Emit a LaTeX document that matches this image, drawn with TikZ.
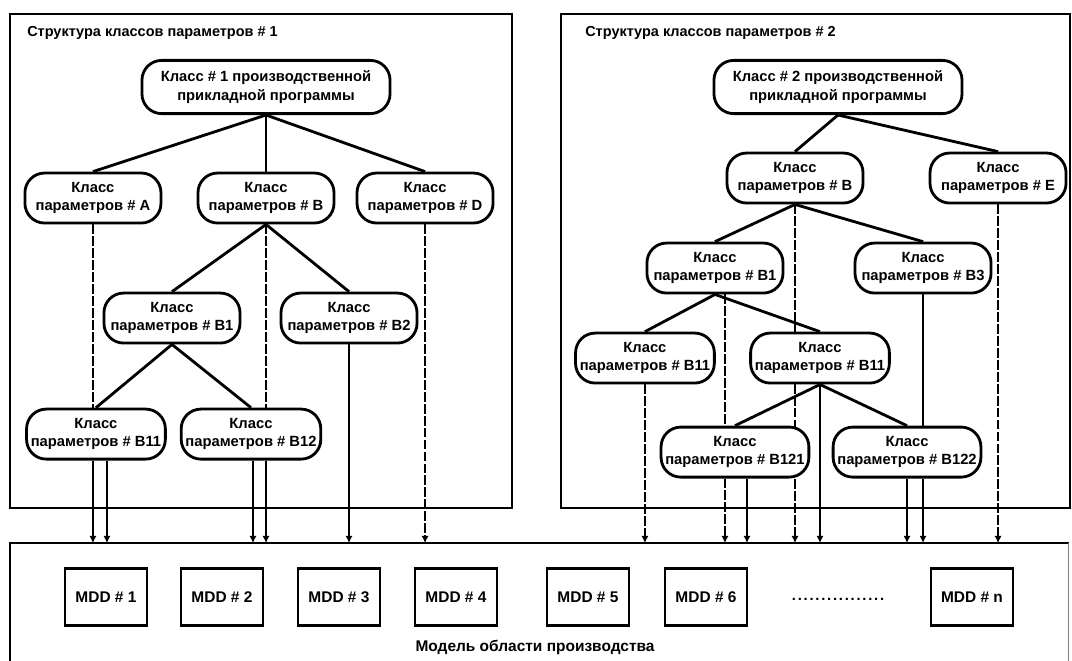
\documentclass[tikz,border=0pt]{standalone}
\usepackage{fontspec}
\setmainfont{Liberation Sans}
\usetikzlibrary{arrows.meta,backgrounds}
\tikzset{
    frame/.style = {draw, line width=2pt},
    paneltitle/.style = {anchor=west, inner sep=0pt,
        font=\fontsize{10.3}{12}\selectfont\bfseries},
    appclass/.style = {draw, line width=2pt, rounded corners=14pt, fill=white,
        minimum width=6.2cm, minimum height=1.33cm, align=center,
        font=\fontsize{10.5}{13}\selectfont\bfseries},
    parclass/.style = {draw, line width=2pt, rounded corners=14pt, fill=white,
        minimum width=3.4cm, minimum height=1.25cm, align=center, inner xsep=3pt,
        font=\fontsize{10.5}{13}\selectfont\bfseries},
    mdd/.style = {draw, line width=2pt, minimum width=2.05cm, minimum height=1.425cm,
        font=\fontsize{11}{12}\selectfont\bfseries},
    tree/.style = {draw, line width=2pt},
    dashlink/.style = {draw, line width=0.8pt, dash pattern=on 7pt off 1.5pt},
    thinlink/.style = {draw, line width=0.8pt},
    boldlink/.style = {draw, line width=1.6pt}
}

\begin{document}
\begin{tikzpicture}[x=0.025cm, y=-0.025cm, >={Latex[length=5pt,width=5pt]}]
        \path[use as bounding box, clip] (0,0) rectangle (1072,660);
        % panel 1
        \draw[frame] (10,14) rectangle (512,508);
        \node[paneltitle] (title1) at (27,33) {Структура классов параметров \# 1};
        \node[appclass] (app1) at (266,87) {Класс \# 1 производственной\\прикладной программы};
        \node[parclass, below of=app1, node distance=2.775cm, xshift=-4.325cm] (pA) {Класс\\параметров \# A};
        \node[parclass, below of=app1, node distance=2.775cm] (pB) {Класс\\параметров \# B};
        \node[parclass, below of=app1, node distance=2.775cm, xshift=3.975cm] (pD) {Класс\\параметров \# D};
        \node[parclass, below of=pB, node distance=3cm, xshift=-2.35cm] (pB1) {Класс\\параметров \# B1};
        \node[parclass, below of=pB, node distance=3cm, xshift=2.075cm] (pB2) {Класс\\параметров \# B2};
        \node[parclass, below of=pB1, node distance=2.9cm, xshift=-1.9cm] (pB11) {Класс\\параметров \# B11};
        \node[parclass, below of=pB1, node distance=2.9cm, xshift=1.975cm] (pB12) {Класс\\параметров \# B12};
        \foreach \c in {pA,pB,pD}
            \draw[tree] (app1.south) -- (\c.north);
        \draw[tree] (pB.south) -- (pB1.north);
        \draw[tree] (pB.south) -- (pB2.north);
        \draw[tree] (pB1.south) -- (pB11.north);
        \draw[tree] (pB1.south) -- (pB12.north);
        % panel 2
        \draw[frame] (561,14) rectangle (1070,508);
        \node[paneltitle] (title2) at (585,33) {Структура классов параметров \# 2};
        \node[appclass] (app2) at (838,87) {Класс \# 2 производственной\\прикладной программы};
        \node[parclass, below of=app2, node distance=2.275cm, xshift=-1.075cm] (qB) {Класс\\параметров \# B};
        \node[parclass, below of=app2, node distance=2.275cm, xshift=4cm] (qE) {Класс\\параметров \# E};
        \node[parclass, below of=qB, node distance=2.25cm, xshift=-2cm] (qB1) {Класс\\параметров \# B1};
        \node[parclass, below of=qB, node distance=2.25cm, xshift=3.2cm] (qB3) {Класс\\параметров \# B3};
        \node[parclass, below of=qB1, node distance=2.25cm, xshift=-1.75cm] (qB11a) {Класс\\параметров \# B11};
        \node[parclass, below of=qB1, node distance=2.25cm, xshift=2.625cm] (qB11b) {Класс\\параметров \# B11};
        \node[parclass, below of=qB11b, node distance=2.35cm, xshift=-2.125cm] (qB121) {Класс\\параметров \# B121};
        \node[parclass, below of=qB11b, node distance=2.35cm, xshift=2.175cm] (qB122) {Класс\\параметров \# B122};
        \draw[tree] (app2.south) -- (qB.north);
        \draw[tree] (app2.south) -- (qE.north);
        \draw[tree] (qB.south) -- (qB1.north);
        \draw[tree] (qB.south) -- (qB3.north);
        \draw[tree] (qB1.south) -- (qB11a.north);
        \draw[tree] (qB1.south) -- (qB11b.north);
        \draw[tree] (qB11b.south) -- (qB121.north);
        \draw[tree] (qB11b.south) -- (qB122.north);
        % domain model
        \node[anchor=north west, minimum width=26.45cm, minimum height=3.5cm, inner sep=0pt] (bus) at (10,543) {};
        \draw[frame] (bus.south west) -- (bus.north west) -- (bus.north east);
        \draw[line width=0.5pt, gray] (bus.north east) -- (bus.south east);
        \foreach \x/\n in {106/1,222/2,339/3,456/4,588/5,706/6}
            \node[mdd] (mdd\n) at (\x,597) {MDD \# \n};
        \node[mdd] (mddn) at (972,597) {MDD \# n};
        \node[font=\fontsize{10.5}{11}\selectfont\bfseries] (dots) at (838,599) {\addfontfeature{LetterSpace=12}................};
        \node[font=\fontsize{11}{12}\selectfont\bfseries] (domain) at (535,647) {Модель области производства};
        % links to the domain model
        \draw[dashlink] (pA.south) -- (pA.south |- pB11.north);
        \draw[thinlink,->] (pA.south |- pB11.south) -- (pA.south |- bus.north);
        \draw[thinlink,->] ([xshift=0.35cm]pA.south |- pB11.south) -- ([xshift=0.35cm]pA.south |- bus.north);
        \draw[dashlink] (pB.south) -- (pB.south |- pB12.north);
        \draw[thinlink,->] (pB.south |- pB12.south) -- (pB.south |- bus.north);
        \draw[thinlink,->] ([xshift=-0.325cm]pB.south |- pB12.south) -- ([xshift=-0.325cm]pB.south |- bus.north);
        \draw[boldlink,->] (pB2.south) -- (pB2.south |- bus.north);
        \draw[dashlink,->] (pD.south) -- (pD.south |- bus.north);
        \draw[dashlink,->] (qB11a.south) -- (qB11a.south |- bus.north);
        \draw[dashlink] ([xshift=0.25cm]qB1.south) -- ([xshift=0.25cm]qB1.south |- qB121.north);
        \draw[dashlink,->] ([xshift=-0.25cm]qB121.south) -- ([xshift=-0.25cm]qB121.south |- bus.north);
        \draw[boldlink,->] ([xshift=0.3cm]qB121.south) -- ([xshift=0.3cm]qB121.south |- bus.north);
        \begin{scope}[on background layer]
            \draw[dashlink,->] (qB.south) -- (qB.south |- bus.north);
        \end{scope}
        \draw[boldlink,->] (qB11b.south) -- (qB11b.south |- bus.north);
        \draw[boldlink] (qB3.south) -- (qB3.south |- qB122.north);
        \draw[boldlink,->] (qB3.south |- qB122.south) -- (qB3.south |- bus.north);
        \draw[boldlink,->] (qB122.south) -- (qB122.south |- bus.north);
        \draw[dashlink,->] (qE.south) -- (qE.south |- bus.north);
\end{tikzpicture}
\end{document}
